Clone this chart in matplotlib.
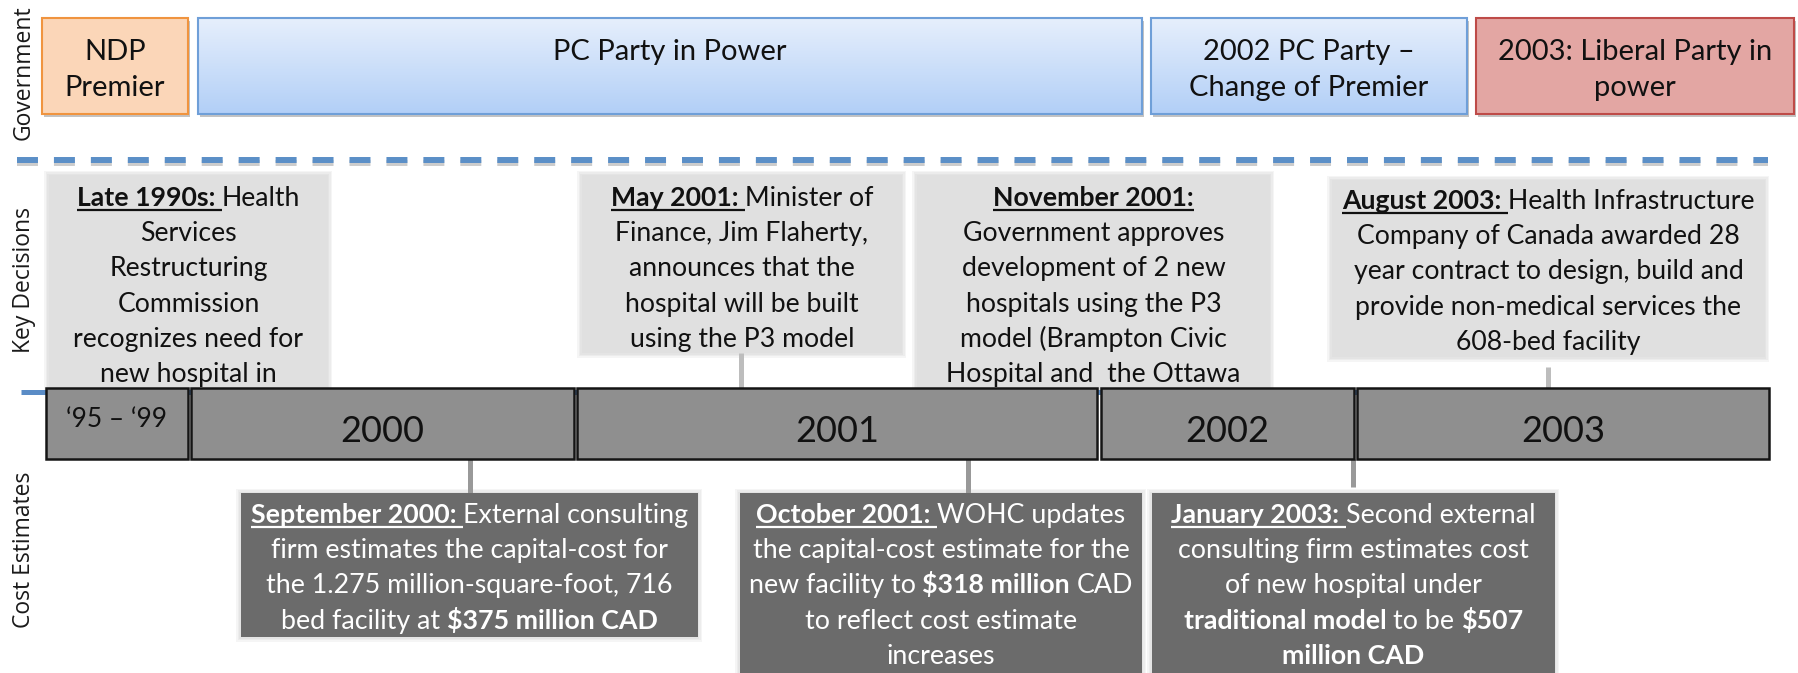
import numpy as np
import matplotlib
matplotlib.use("Agg")
import matplotlib.pyplot as plt
from matplotlib.patches import Rectangle
from matplotlib.colors import LinearSegmentedColormap

plt.rcParams['text.parse_math'] = False
plt.rcParams['lines.scale_dashes'] = False

BOX_FONT = 'Lato'
LABEL_FONT = 'Open Sans'

# ==========================
# contents
# ==========================
row_labels = ['Government', 'Key Decisions', 'Cost Estimates']

gov_labels = [['NDP', 'Premier'],
              ['PC Party in Power'],
              ['2002 PC Party –', 'Change of Premier'],
              ['2003: Liberal Party in', 'power']]

year_labels = ['‘95 – ‘99', '2000', '2001', '2002', '2003']

# style codes: 'n' normal, 'b' bold, 'bu' bold underlined
decisions = [
    [[('Late 1990s: ', 'bu'), ('Health', 'n')], 'Services', 'Restructuring',
     'Commission', 'recognizes need for', 'new hospital in'],
    [[('May 2001: ', 'bu'), ('Minister of', 'n')], 'Finance, Jim Flaherty,',
     'announces that the', 'hospital will be built', 'using the P3 model'],
    [[('November 2001:', 'bu')], 'Government approves', 'development of 2 new',
     'hospitals using the P3', 'model (Brampton Civic', 'Hospital and  the Ottawa'],
    [[('August 2003: ', 'bu'), ('Health Infrastructure', 'n')],
     'Company of Canada awarded 28', 'year contract to design, build and',
     'provide non-medical services the', '608-bed facility'],
]

estimates = [
    [[('September 2000: ', 'bu'), ('External consulting', 'n')],
     'firm estimates the capital-cost for', 'the 1.275 million-square-foot, 716',
     [('bed facility at ', 'n'), ('$375 million CAD', 'b')]],
    [[('October 2001: ', 'bu'), ('WOHC updates', 'n')],
     'the capital-cost estimate for the',
     [('new facility to ', 'n'), ('$318 million', 'b'), (' CAD', 'n')],
     'to reflect cost estimate', 'increases'],
    [[('January 2003: ', 'bu'), ('Second external', 'n')],
     'consulting firm estimates cost', 'of new hospital under',
     [('traditional model', 'b'), (' to be ', 'n'), ('$507', 'b')],
     [('million CAD', 'b')]],
]

# ==========================
# layout (pixels)
# ==========================
W, H = 1799, 673
gov_x = [(42, 188), (198, 1142), (1151, 1467), (1476, 1794)]
gov_y = (18, 114)
gov_face = ['#FBD6B8', 'grad', 'grad', '#E3A6A3']
gov_edge = ['#F0943F', '#6F9FD8', '#6F9FD8', '#BE4B48']
gov_base = [60, 96]

year_x = [(46, 188), (191, 574), (577, 1097), (1101, 1354), (1357, 1769)]
bar_y = (388, 459)

dec_box = [(49, 175, 328, 390), (582, 175, 902, 353),
           (917, 175, 1270, 390), (1332, 180, 1765, 357)]
dec_base = [206, 206, 206, 209]
dec_tick = [None, (741, 353, 388), None, (1548, 367, 388)]

est_box = [(241, 493, 698, 637), (740, 493, 1142, 700), (1152, 493, 1555, 700)]
est_base = [523, 523, 523]
est_tick = [(470, 459, 493), (968, 459, 493), (1353, 459, 487)]

label_y = [73, 280, 550]
STEP = 35.2

fig = plt.figure(figsize=(W / 100, H / 100), dpi=100)
ax = fig.add_axes([0, 0, 1, 1])
ax.set_xlim(0, W)
ax.set_ylim(H, 0)
ax.axis('off')
renderer = fig.canvas.get_renderer()


def text_w(s, weight, size):
    if not s:
        return 0.0
    t = ax.text(0, 0, s, fontsize=size, family=BOX_FONT, fontweight=weight)
    w = t.get_window_extent(renderer).width
    t.remove()
    return w


def draw_line(cx, base, runs, size, color, z):
    if isinstance(runs, str):
        runs = [(runs, 'n')]
    parts = []
    for txt, style in runs:
        weight = 'bold' if 'b' in style else 'normal'
        sw = text_w('x x', weight, size) - text_w('xx', weight, size)
        core = txt.strip()
        lead = (len(txt) - len(txt.lstrip())) * sw
        trail = (len(txt) - len(txt.rstrip())) * sw
        parts.append((core, weight, style, lead, text_w(core, weight, size), trail))
    total = sum(p[3] + p[4] + p[5] for p in parts)
    x = cx - total / 2
    for core, weight, style, lead, w, trail in parts:
        x += lead
        ax.text(x, base, core, ha='left', va='baseline', fontsize=size,
                family=BOX_FONT, fontweight=weight, color=color, zorder=z)
        if 'u' in style:
            ax.plot([x, x + w + trail], [base + 4, base + 4], color=color,
                    lw=1.6, solid_capstyle='butt', zorder=z)
        x += w + trail


def glow(x0, y0, x1, y1, z):
    for pad in (1.5, 3, 4.5):
        ax.add_patch(Rectangle((x0 - pad, y0 - pad), x1 - x0 + 2 * pad, y1 - y0 + 2 * pad,
                               facecolor='#7F7F7F', edgecolor='none', alpha=0.07, zorder=z))


# row labels
for lab, y in zip(row_labels, label_y):
    ax.text(24, y, lab, rotation=90, ha='center', va='center', fontsize=16.5,
            family=LABEL_FONT, color='#1A1A1A')

# government boxes
pc_cmap = LinearSegmentedColormap.from_list('pc', ['#E6EFFC', '#B2CFF7'])
grad = np.linspace(0, 1, 128).reshape(-1, 1)
for (x0, x1), lines, face, edge in zip(gov_x, gov_labels, gov_face, gov_edge):
    y0, y1 = gov_y
    ax.add_patch(Rectangle((x0 + 2, y0 + 3), x1 - x0, y1 - y0, facecolor='#555555',
                           edgecolor='none', alpha=0.35, zorder=1))
    rect = Rectangle((x0, y0), x1 - x0, y1 - y0, facecolor='none' if face == 'grad' else face,
                     edgecolor=edge, lw=1.5, zorder=3)
    ax.add_patch(rect)
    if face == 'grad':
        bg = Rectangle((x0, y0), x1 - x0, y1 - y0, facecolor='white', edgecolor='none', zorder=2)
        ax.add_patch(bg)
        im = ax.imshow(grad, cmap=pc_cmap, extent=(x0, x1, y1, y0), origin='upper',
                       aspect='auto', zorder=2.5)
        im.set_clip_path(bg)
    for line, base in zip(lines, gov_base):
        draw_line((x0 + x1) / 2, base, line, 21, '#111111', 4)

# dashed separator
ax.plot([17, 1768], [163, 163], color='#9A9A9A', alpha=0.5, lw=4.3,
        dashes=(15.1, 11.5), zorder=1)
ax.plot([17, 1768], [160, 160], color='#5B8FC7', lw=4.3, dashes=(15.1, 11.5), zorder=2)

# key decision boxes
for (x0, y0, x1, y1), lines, base, tick in zip(dec_box, decisions, dec_base, dec_tick):
    glow(x0, y0, x1, y1, 1)
    ax.add_patch(Rectangle((x0, y0), x1 - x0, y1 - y0, facecolor='#E0E0E0',
                           edgecolor='none', zorder=2))
    for i, line in enumerate(lines):
        draw_line((x0 + x1) / 2, base + i * STEP, line, 19.2, '#111111', 3)
    if tick:
        ax.plot([tick[0], tick[0]], [tick[1], tick[2]], color='#BDBDBD', lw=3.6,
                solid_capstyle='butt', zorder=2)

# timeline
ax.plot([21, 1769], [392, 392], color='#5A8CC6', lw=3.6, solid_capstyle='butt', zorder=4)
for (x0, x1), lab in zip(year_x, year_labels):
    y0, y1 = bar_y
    ax.add_patch(Rectangle((x0, y0), x1 - x0, y1 - y0, facecolor='#8F8F8F',
                           edgecolor='#151515', lw=1.8, zorder=5))
    if lab.startswith('‘'):
        ax.text((x0 + x1) / 2, 427, lab, ha='center', va='baseline', fontsize=19,
                family=BOX_FONT, color='#111111', zorder=6)
    else:
        ax.text((x0 + x1) / 2, 442, lab, ha='center', va='baseline', fontsize=26,
                family=BOX_FONT, color='#111111', zorder=6)

# cost estimate boxes
for (x0, y0, x1, y1), lines, base, tick in zip(est_box, estimates, est_base, est_tick):
    ax.plot([tick[0], tick[0]], [tick[1], tick[2]], color='#999999', lw=3.6,
            solid_capstyle='butt', zorder=2)
    glow(x0, y0, x1, y1, 1)
    ax.add_patch(Rectangle((x0, y0), x1 - x0, y1 - y0, facecolor='#6B6B6B',
                           edgecolor='none', zorder=2))
    for i, line in enumerate(lines):
        draw_line((x0 + x1) / 2, base + i * STEP, line, 19.3, 'white', 3)

ax.set_xlim(0, W)
ax.set_ylim(H, 0)
fig.savefig('out.png', dpi=100, facecolor='white')
